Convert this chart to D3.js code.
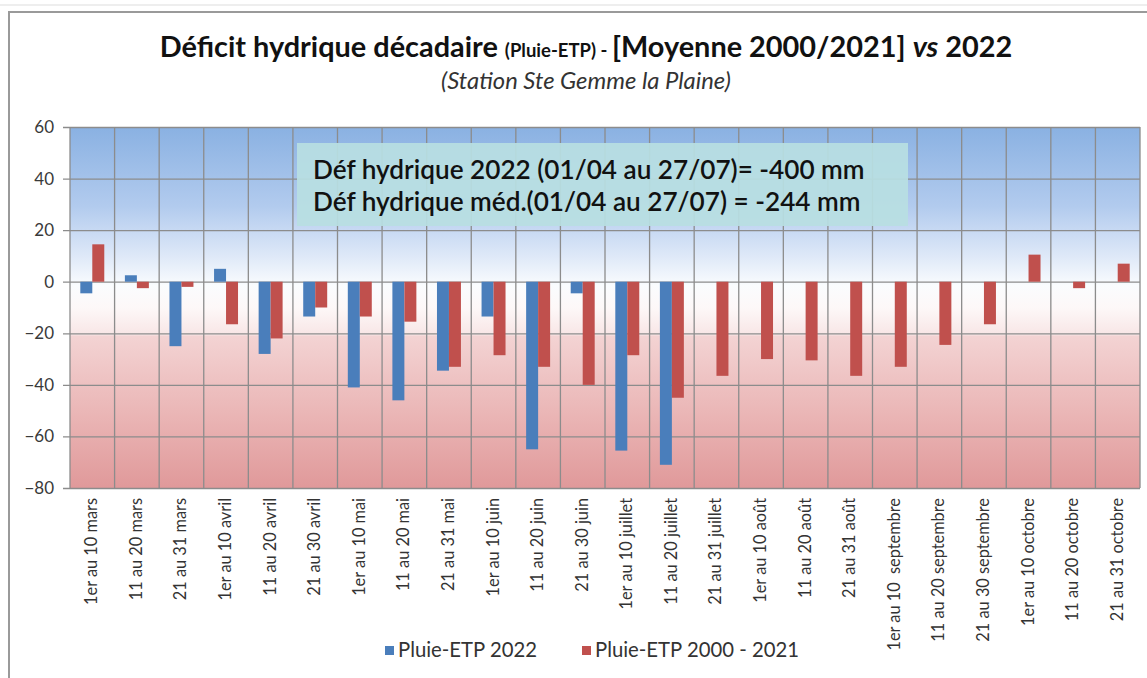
<!DOCTYPE html>
<html>
<head>
<meta charset="utf-8">
<script src="https://cdn.jsdelivr.net/npm/d3@7"></script>
<style>
  body { margin: 0; background: #fff; }
  svg text { font-family: Lato, "Open Sans", sans-serif; }
</style>
</head>
<body>
<div id="vis"></div>
<script>
// decades (x categories)
var decades = ["1er au 10 mars", "11 au 20 mars", "21 au 31 mars",
  "1er au 10 avril", "11 au 20 avril", "21 au 30 avril",
  "1er au 10 mai", "11 au 20 mai", "21 au 31 mai",
  "1er au 10 juin", "11 au 20 juin", "21 au 30 juin",
  "1er au 10 juillet", "11 au 20 juillet", "21 au 31 juillet",
  "1er au 10 août", "11 au 20 août", "21 au 31 août",
  "1er au 10  septembre", "11 au 20 septembre", "21 au 30 septembre",
  "1er au 10 octobre", "11 au 20 octobre", "21 au 31 octobre"];

// Pluie-ETP 2022 (no data after 20 juillet)
var etp2022 = [-4.5, 2.5, -25, 5, -28, -13.5, -41, -46, -34.5, -13.5, -65, -4.5,
  -65.5, -71, null, null, null, null, null, null, null, null, null, null];

// Pluie-ETP moyenne 2000 - 2021
var etpMoy = [14.5, -2.5, -2, -16.5, -22, -10, -13.5, -15.5, -33, -28.5, -33, -40,
  -28.5, -45, -36.5, -30, -30.5, -36.5, -33, -24.5, -16.5, 10.5, -2.5, 7];

var seriesNames = ["Pluie-ETP 2022", "Pluie-ETP 2000 - 2021"];
var seriesColors = ["#4a7ebb", "#c0504d"];
var yTicks = [-80, -60, -40, -20, 0, 20, 40, 60];

var notes = ["Déf hydrique 2022 (01/04 au 27/07)= -400 mm",
  "Déf hydrique méd.(01/04 au 27/07) = -244 mm"];

var W = 1147, H = 678;
var plot = {left: 70, right: 1140, top: 127, bottom: 488};

var svg = d3.select("#vis").append("svg")
  .attr("width", W)
  .attr("height", H);

// scale a text selection's font size so that the first node is `target` px wide
function fitText(sel, fs, target){
  sel.style("font-size", fs + "px");
  var w = sel.node().getComputedTextLength();
  var nf = fs * target / w;
  sel.style("font-size", nf + "px");
  return nf;
}

// outer frame
svg.append("line").attr("x1", 0).attr("x2", W).attr("y1", 5).attr("y2", 5)
  .attr("stroke", "#eeeeee").attr("stroke-width", 2);
svg.append("path")
  .attr("d", "M9," + H + " V12 H" + W)
  .attr("fill", "none").attr("stroke", "#9a9a9a").attr("stroke-width", 2);

var defs = svg.append("defs");
var grad = defs.append("linearGradient")
  .attr("id", "bg").attr("x1", 0).attr("x2", 0).attr("y1", 0).attr("y2", 1);
[[0, "#8ab1e2"], [0.22, "#b2cbee"], [0.36, "#dfe9f8"], [0.44, "#fafcfe"],
 [0.5, "#fdf8f8"], [0.575, "#f8e6e6"], [0.58, "#f3d3d3"], [0.8, "#eab5b5"], [1, "#e0999a"]]
  .forEach(function(s){
    grad.append("stop").attr("offset", s[0]).attr("stop-color", s[1]);
  });

var x = d3.scaleBand()
  .domain(decades)
  .range([plot.left, plot.right])
  .paddingInner(0).paddingOuter(0);

var x1 = d3.scaleBand()
  .domain([0, 1])
  .range([0, x.bandwidth()])
  .paddingInner(0)
  .paddingOuter(0.86);

var y = d3.scaleLinear()
  .domain([-80, 60])
  .range([plot.bottom, plot.top]);

svg.append("rect")
  .attr("x", plot.left).attr("y", plot.top)
  .attr("width", plot.right - plot.left)
  .attr("height", plot.bottom - plot.top)
  .attr("fill", "url(#bg)");

// horizontal grid + y labels
var yAxis = d3.axisLeft(y)
  .tickValues(yTicks)
  .tickSize(-(plot.right - plot.left) - 7)
  .tickPadding(9);

var yg = svg.append("g")
  .attr("transform", "translate(" + (plot.left - 7) + ",0)")
  .call(yAxis);
yg.select(".domain").remove();
yg.selectAll(".tick line").attr("stroke", "#8c8c8c").attr("stroke-width", 1.3);
yg.selectAll(".tick text")
  .attr("fill", "#3a3a3a")
  .style("font-size", "17px");

// vertical grid at category boundaries
var bounds = decades.map(function(d){ return x(d); }).concat([plot.right]);
svg.append("g").selectAll("line")
  .data(bounds)
  .join("line")
  .attr("x1", function(d){ return d; })
  .attr("x2", function(d){ return d; })
  .attr("y1", plot.top)
  .attr("y2", plot.bottom)
  .attr("stroke", "#8c8c8c")
  .attr("stroke-width", 1.3);

// bars
var barData = [];
decades.forEach(function(d, i){
  [etp2022[i], etpMoy[i]].forEach(function(v, k){
    if (v !== null) barData.push({cat: d, k: k, v: v});
  });
});

svg.append("g").selectAll("rect")
  .data(barData)
  .join("rect")
  .attr("x", function(d){ return x(d.cat) + x1(d.k); })
  .attr("width", x1.bandwidth())
  .attr("y", function(d){ return y(Math.max(0, d.v)); })
  .attr("height", function(d){ return Math.abs(y(d.v) - y(0)); })
  .attr("fill", function(d){ return seriesColors[d.k]; });

// annotation box
var note = svg.append("g");
note.append("rect")
  .attr("x", 297).attr("y", 143).attr("width", 611).attr("height", 83)
  .attr("fill", "#b8dfe2").attr("fill-opacity", 0.93);
var noteText = note.selectAll("text")
  .data(notes)
  .join("text")
  .attr("x", 313)
  .attr("y", function(d, i){ return 179 + i * 32; })
  .attr("fill", "#111")
  .style("font-weight", "600")
  .text(function(d){ return d; });
fitText(noteText, 21, 552);

// x labels (rotated)
var xl = svg.append("g").selectAll("text")
  .data(decades)
  .join("text")
  .attr("transform", function(d){
    return "translate(" + (x(d) + x.bandwidth() / 2 + 5) + ",498) rotate(-90)";
  })
  .attr("text-anchor", "end")
  .attr("fill", "#333")
  .style("white-space", "pre")
  .text(function(d){ return d; });
fitText(xl, 13, 107);

// title
var title = svg.append("text")
  .attr("x", 586).attr("y", 57)
  .attr("text-anchor", "middle")
  .attr("fill", "#111")
  .style("font-weight", "bold");
title.append("tspan").attr("class", "big").text("Déficit hydrique décadaire ");
title.append("tspan").attr("class", "small").text("(Pluie-ETP) -  ");
title.append("tspan").attr("class", "big").text("[Moyenne 2000/2021] ");
title.append("tspan").attr("class", "big").style("font-style", "italic").text("vs");
title.append("tspan").attr("class", "big").text(" 2022");

function sizeTitle(fs){
  title.selectAll(".big").style("font-size", fs + "px");
  title.selectAll(".small").style("font-size", (fs * 0.64) + "px");
}
sizeTitle(23);
var tw = title.node().getComputedTextLength();
sizeTitle(23 * 853 / tw);

var sub = svg.append("text")
  .attr("x", 586).attr("y", 89)
  .attr("text-anchor", "middle")
  .attr("fill", "#333")
  .style("font-style", "italic")
  .text("(Station Ste Gemme la Plaine)");
fitText(sub, 16, 290);

// legend
var legX = [385, 582];
var leg = svg.append("g").selectAll("g")
  .data(seriesNames)
  .join("g")
  .attr("transform", function(d, i){ return "translate(" + legX[i] + ",646)"; });
leg.append("rect")
  .attr("width", 9).attr("height", 9)
  .attr("fill", function(d, i){ return seriesColors[i]; });
var legText = leg.append("text")
  .attr("x", 13).attr("y", 11)
  .attr("fill", "#333")
  .text(function(d){ return d; });
var lfs = fitText(legText, 17, 148);
legText.style("font-size", (lfs * 0.94) + "px");
</script>
</body>
</html>
